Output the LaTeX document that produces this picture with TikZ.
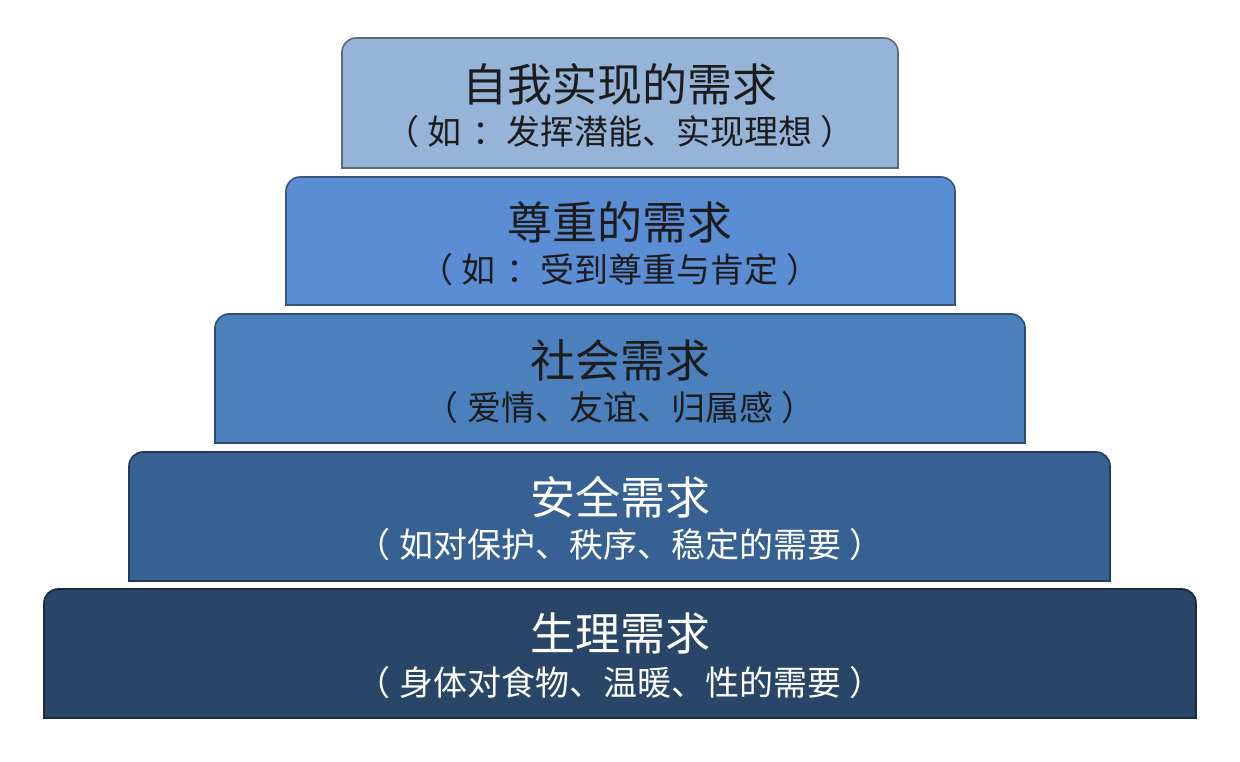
\documentclass[tikz,border=0pt]{standalone}
\usepackage{fontspec}
\setmainfont{Noto Sans CJK SC}
\newfontfamily\cjk{Noto Sans CJK SC}
\definecolor{cA}{HTML}{96B4D8}
\definecolor{cB}{HTML}{5A8DD4}
\definecolor{cC}{HTML}{4C80BD}
\definecolor{cD}{HTML}{376192}
\definecolor{cE}{HTML}{294568}
\definecolor{darktxt}{HTML}{1C1C1C}
\tikzset{
  tier/.style={line width=1.6pt, draw=#1!60!black, fill=#1},
  ttl/.style={font=\cjk\fontsize{45}{50}\selectfont, inner sep=0pt},
  sub/.style={font=\cjk\fontsize{34}{40}\selectfont, inner sep=0pt},
}
\newcommand\lp{（\hspace{0.25em}}
\newcommand\rp{\hspace{0.25em}）}
\newcommand\cln{\hspace{0.3em}：}
% #1 x-left, #2 x-right, #3 y-top, #4 y-bottom (image pixel coordinates), #5 colour
\newcommand\tierbox[5]{%
  \filldraw[tier=#5] ({#1},{762-#4}) -- ({#1},{762-#3-14})
    arc[start angle=180,end angle=90,radius=14pt] -- ({#2-14},{762-#3})
    arc[start angle=90,end angle=0,radius=14pt] -- ({#2},{762-#4}) -- cycle;}
\begin{document}
\begin{tikzpicture}[x=1pt,y=1pt]
\useasboundingbox (0,0) rectangle (1240,762);
\fill[white] (0,0) rectangle (1240,762);
\tierbox{342}{898}{38}{168}{cA}
\tierbox{286}{955}{177}{305}{cB}
\tierbox{215}{1025}{314}{443}{cC}
\tierbox{129}{1110}{452}{581}{cD}
\tierbox{44}{1196}{589}{718}{cE}
\node[ttl,text=darktxt] (t1) at (620,{762-84}) {自我实现的需求};
\node[sub,text=darktxt] (s1) at (620,{762-132}) {\lp 如\cln 发挥潜能、实现理想\rp};
\node[ttl,text=darktxt] (t2) at (620,{762-222}) {尊重的需求};
\node[sub,text=darktxt] (s2) at (620,{762-270}) {\lp 如\cln 受到尊重与肯定\rp};
\node[ttl,text=darktxt] (t3) at (620,{762-360}) {社会需求};
\node[sub,text=darktxt] (s3) at (620,{762-408}) {\lp 爱情、友谊、归属感\rp};
\node[ttl,text=white] (t4) at (620,{762-497}) {安全需求};
\node[sub,text=white] (s4) at (620,{762-545}) {\lp 如对保护、秩序、稳定的需要\rp};
\node[ttl,text=white] (t5) at (620,{762-633}) {生理需求};
\node[sub,text=white] (s5) at (620,{762-683}) {\lp 身体对食物、温暖、性的需要\rp};
\end{tikzpicture}
\end{document}
